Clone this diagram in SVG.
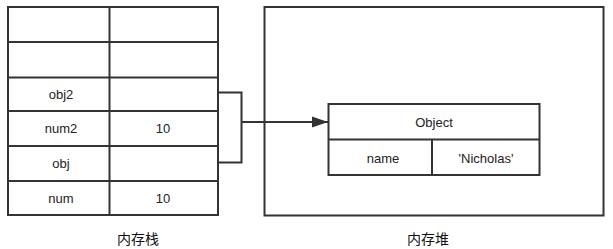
<svg xmlns="http://www.w3.org/2000/svg" width="613" height="249" viewBox="0 0 613 249">
<style>
.b{fill:#fff;stroke:#333;stroke-width:2}
.l{fill:none;stroke:#333;stroke-width:2}
.t{font-family:"Liberation Sans",Arial,sans-serif;font-size:13px;fill:#222;text-anchor:middle;dominant-baseline:central}
.c{font-family:"Noto Sans CJK SC","Noto Sans",sans-serif;font-size:14px;fill:#111;text-anchor:middle;dominant-baseline:central}
</style>
<defs>
<marker id="ah" markerWidth="16" markerHeight="12" refX="16" refY="6" orient="auto" markerUnits="userSpaceOnUse" viewBox="0 0 16 12">
<path d="M0,0.5 L16,6 L0,11.5 z" fill="#333"/>
</marker>
</defs>
<rect width="613" height="249" fill="#fff"/>
<g id="stack">
<rect class="b" x="8" y="7" width="210" height="208"/>
<line class="l" x1="109.5" y1="7" x2="109.5" y2="215"/>
<line class="l" x1="8" y1="42" x2="218" y2="42"/>
<line class="l" x1="8" y1="77.5" x2="218" y2="77.5"/>
<line class="l" x1="8" y1="111" x2="218" y2="111"/>
<line class="l" x1="8" y1="146" x2="218" y2="146"/>
<line class="l" x1="8" y1="181" x2="218" y2="181"/>
<text class="t" x="61" y="94">obj2</text>
<text class="t" x="61" y="128.5">num2</text>
<text class="t" x="163" y="128.5">10</text>
<text class="t" x="61" y="163.5">obj</text>
<text class="t" x="61" y="198">num</text>
<text class="t" x="163" y="198">10</text>
<text class="c" x="138" y="238">内存栈</text>
</g>
<g id="heap">
<rect class="b" x="264.5" y="7" width="339" height="208.5"/>
<text class="c" x="428" y="238">内存堆</text>
</g>
<g id="object">
<rect class="b" x="328.5" y="104" width="211" height="71"/>
<line class="l" x1="328.5" y1="139.5" x2="539.5" y2="139.5"/>
<line class="l" x1="432" y1="139.5" x2="432" y2="175"/>
<text class="t" x="434" y="122">Object</text>
<text class="t" x="383" y="158">name</text>
<text class="t" x="486" y="158">'Nicholas'</text>
</g>
<g id="connectors">
<path class="l" d="M218,92.5 H241.5 V162.5 H218"/>
<line class="l" x1="241.5" y1="122" x2="328" y2="122" marker-end="url(#ah)"/>
</g>
</svg>
